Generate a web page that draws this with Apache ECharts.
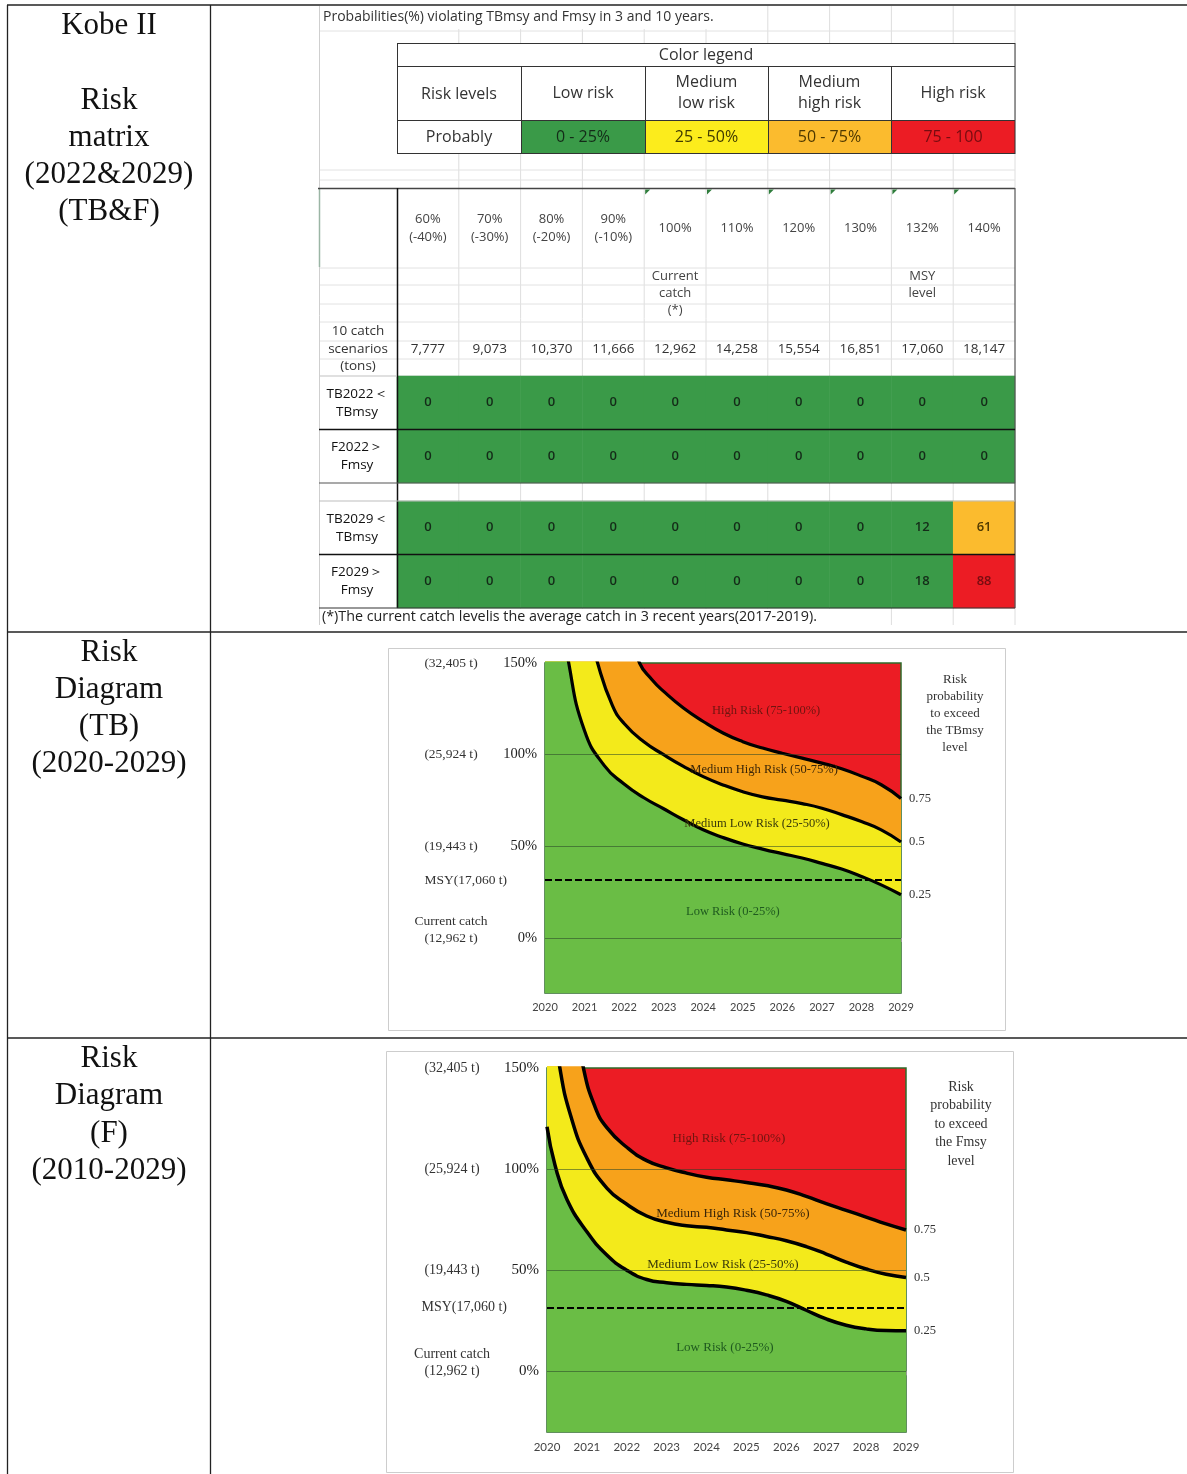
<!DOCTYPE html>
<html>
<head>
<meta charset="utf-8">
<script src="https://cdn.jsdelivr.net/npm/echarts@6/dist/echarts.min.js"></script>
<style>
  html, body { margin: 0; padding: 0; background: #ffffff; }
  #chart { width: 1187px; height: 1474px; }
</style>
</head>
<body>
<div id="chart"></div>
<script>
// ---------------- Risk matrix (Kobe II) ----------------
const catchLevels = ['60%\n(-40%)', '70%\n(-30%)', '80%\n(-20%)', '90%\n(-10%)', '100%', '110%', '120%', '130%', '132%', '140%'];
const catchNotes  = ['', '', '', '', 'Current\ncatch\n(*)', '', '', '', 'MSY\nlevel\n ', ''];
const catchTons   = ['7,777', '9,073', '10,370', '11,666', '12,962', '14,258', '15,554', '16,851', '17,060', '18,147'];
const rows2022 = ['TB2022\uFF1C\nTBmsy', 'F2022\uFF1E\nFmsy'];
const rows2029 = ['TB2029\uFF1C\nTBmsy', 'F2029\uFF1E\nFmsy'];
const probTB2022 = [0, 0, 0, 0, 0, 0, 0, 0, 0, 0];
const probF2022  = [0, 0, 0, 0, 0, 0, 0, 0, 0, 0];
const probTB2029 = [0, 0, 0, 0, 0, 0, 0, 0, 12, 61];
const probF2029  = [0, 0, 0, 0, 0, 0, 0, 0, 18, 88];

const legendLevels = ['Low risk', 'Medium\nlow risk', 'Medium\nhigh risk', 'High risk'];
const legendRanges = ['0 - 25%', '25 - 50%', '50 - 75%', '75 - 100'];

// ---------------- Risk diagrams ----------------
const currentCatch = 12962;
const msyCatch = 17060;
const bandNames = ['Low Risk (0-25%)', 'Medium Low Risk (25-50%)', 'Medium High Risk (50-75%)', 'High Risk (75-100%)'];
const boundaryNames = ['0.25', '0.5', '0.75'];

// TB: catch increase (%) at which P(TB < TBmsy) reaches 25 / 50 / 75 %
const tbLow = [[2020, 230], [2020.6, 150], [2021.0, 113], [2021.5, 94], [2022.0, 84], [2022.5, 76.5], [2023.0, 70.5],
  [2023.5, 64.5], [2024.0, 59], [2024.5, 54.8], [2025.0, 51.3], [2025.5, 48.5], [2026.0, 46], [2026.5, 43.6],
  [2027.0, 40.7], [2027.5, 37.6], [2028.0, 33.6], [2028.5, 29], [2029, 23.6]];
const tbMid = [[2020, 290], [2020.7, 200], [2021.33, 150], [2021.7, 127], [2022.0, 117], [2022.5, 107], [2023.0, 100],
  [2023.5, 93.6], [2024.0, 88], [2024.5, 83.5], [2025.0, 79.8], [2025.5, 77], [2026.0, 75.2], [2026.5, 73.3],
  [2027.0, 70.8], [2027.5, 67.3], [2028.0, 63.5], [2028.5, 59], [2029, 52.4]];
const tbHigh = [[2020, 330], [2021.2, 215], [2022.39, 150], [2022.7, 141], [2023.0, 134.5], [2023.5, 125.4],
  [2024.0, 118.1], [2024.5, 111.8], [2025.0, 107.1], [2025.5, 103.6], [2026.0, 100.8], [2026.5, 98.1], [2027.0, 95.4],
  [2027.5, 92.3], [2028.0, 88.3], [2028.5, 83.6], [2029, 76.1]];

// F: catch increase (%) at which P(F > Fmsy) reaches 25 / 50 / 75 %
const fLow = [[2020, 120.9], [2020.2, 102], [2020.5, 85], [2021.0, 69], [2021.5, 57.5], [2022.0, 50], [2022.5, 45.4],
  [2023.0, 43.8], [2023.5, 43], [2024.0, 42.5], [2024.5, 41.7], [2025.0, 40.1], [2025.5, 37.8], [2026.0, 34.6],
  [2026.5, 30.2], [2027.0, 25.9], [2027.5, 22.8], [2028.0, 21], [2028.5, 20.2], [2029, 20.1]];
const fMid = [[2020, 195], [2020.32, 150.3], [2020.6, 126], [2021.0, 105.5], [2021.5, 90.6], [2022.0, 82.6],
  [2022.5, 76.8], [2023.0, 73.7], [2023.5, 72], [2024.0, 71.2], [2024.5, 69.9], [2025.0, 68.6], [2025.5, 66.7],
  [2026.0, 64.6], [2026.5, 61.7], [2027.0, 58], [2027.5, 54], [2028.0, 50.6], [2028.5, 48], [2029, 46.4]];
const fHigh = [[2020, 270], [2020.5, 195], [2020.91, 150.3], [2021.2, 131], [2021.5, 120.5], [2022.0, 110.8],
  [2022.5, 104.2], [2023.0, 100.6], [2023.5, 98], [2024.0, 96], [2024.5, 94.7], [2025.0, 93.4], [2025.5, 91.9],
  [2026.0, 89.7], [2026.5, 86.5], [2027.0, 82.9], [2027.5, 79.6], [2028.0, 76.3], [2028.5, 72.9], [2029, 69.9]];

// ---------------- styling ----------------
const SANS = '"Open Sans", Lato, sans-serif';
const SERIF = '"Liberation Serif", "DejaVu Serif", serif';
const cellColors = ['#3a9a48', '#fcec1c', '#fbbb2e', '#ec1c24'];
const cellText = ['#142b18', '#3f3a00', '#4f3900', '#760c10'];
const bandColors = ['#6abd45', '#f3ea1b', '#f7a21b', '#ec1c24'];
const bandText = ['#1f5a1f', '#3a3a0a', '#3b2608', '#6e1510'];

const fmt = n => Math.round(n).toLocaleString('en-US');
const msyPct = (msyCatch / currentCatch - 1) * 100;

function cells(rowsValues) {
  const out = [];
  rowsValues.forEach((vals, r) => vals.forEach((v, c) => out.push([c, r, v])));
  return out;
}
function levelKey(v) { return v > 75 ? 'k3' : v > 50 ? 'k2' : v > 25 ? 'k1' : 'k0'; }
const cellRich = {};
cellText.forEach((c, i) => { cellRich['k' + i] = { color: c, fontSize: 13, fontWeight: 600, fontFamily: SANS }; });

function heatSeries(gridAxis, rowsValues) {
  return {
    type: 'heatmap', xAxisIndex: gridAxis.x, yAxisIndex: gridAxis.y,
    data: cells(rowsValues), silent: true,
    itemStyle: { borderWidth: 0 },
    emphasis: { disabled: true },
    label: { show: true, formatter: p => '{' + levelKey(p.value[2]) + '|' + p.value[2] + '}', rich: cellRich }
  };
}

// percent axis label and tonnage axis label for the diagrams
const pctLabel = v => (v >= 0 && v % 50 === 0) ? v + '%' : '';
const tonLabel = v => {
  if (v === 0) return 'Current catch\n(' + fmt(currentCatch) + ' t)\n ';
  if (v > 0 && v % 50 === 0) return '(' + fmt(currentCatch * (1 + v / 100)) + ' t)';
  return '';
};

function diagramAxes(gridIndex, yearFont, pctFont, tonFont, tonMargin) {
  const x = {
    type: 'value', gridIndex, min: 2020, max: 2029, interval: 1,
    axisLine: { show: false }, splitLine: { show: false },
    axisTick: { show: true, length: 4, lineStyle: { color: '#9a9a9a' } },
    axisLabel: { formatter: v => String(v), fontFamily: 'Lato, sans-serif', fontSize: yearFont, color: '#444', margin: 9 }
  };
  const yPct = {
    type: 'value', gridIndex, min: -30, max: 150, interval: 10, position: 'left',
    axisLine: { show: false }, axisTick: { show: false }, splitLine: { show: false },
    axisLabel: { formatter: pctLabel, fontFamily: SERIF, fontSize: pctFont, color: '#222', margin: 8 }
  };
  const yTon = {
    type: 'value', gridIndex, min: -30, max: 150, interval: 10, position: 'left',
    axisLine: { show: false }, axisTick: { show: false }, splitLine: { show: false },
    axisLabel: { formatter: tonLabel, fontFamily: SERIF, fontSize: tonFont, color: '#333',
      align: 'center', margin: tonMargin, lineHeight: 17 }
  };
  return { x, yPct, yTon };
}

function curveSeries(xi, yi, data, band, name, lw) {
  return {
    type: 'line', xAxisIndex: xi, yAxisIndex: yi, data, silent: true,
    smooth: 0.5, showSymbol: false, symbol: 'none',
    lineStyle: { color: '#000', width: lw },
    areaStyle: { color: bandColors[band], opacity: 1, origin: 'start' },
    endLabel: { show: true, formatter: name, distance: 8, fontFamily: SERIF, fontSize: 12.5, color: '#333' }
  };
}

function guideLines(fontSize, msyDistance) {
  const grid = v => ({ yAxis: v, lineStyle: { color: 'rgba(40,70,40,0.55)', width: 1, type: 'solid' }, label: { show: false } });
  return {
    symbol: 'none', silent: true,
    data: [grid(0), grid(50), grid(100), {
      yAxis: msyPct,
      lineStyle: { color: '#000', width: 2.2, type: [7, 3] },
      label: { show: true, position: 'start', distance: msyDistance, formatter: 'MSY(' + fmt(msyCatch) + ' t)',
        fontFamily: SERIF, fontSize, color: '#333' }
    }]
  };
}

function bandMarks(at, fontSize) {
  return {
    symbol: 'circle', symbolSize: 1, silent: true, itemStyle: { color: 'rgba(0,0,0,0)' },
    label: { show: true, position: 'inside', fontFamily: SERIF, fontSize },
    data: bandNames.map((n, i) => ({ coord: at[i], value: n, label: { formatter: n, color: bandText[i] } }))
  };
}

// positions (year, % increase) of the band captions
const tbCaptionAt = [[2024.75, 14.2], [2025.36, 62.2], [2025.54, 91.7], [2025.59, 123.8]];
const fCaptionAt  = [[2024.46, 11.9], [2024.41, 53], [2024.66, 78.2], [2024.56, 115.3]];

const dTB = diagramAxes(2, 11, 14.5, 13.5, 94);
const dF = diagramAxes(3, 11.5, 15, 14, 95);

// ---------------- graphic helpers (table frame, legend, notes) ----------------
function ln(x1, y1, x2, y2, stroke, w, z) {
  return { type: 'line', silent: true, z: z == null ? 5 : z, shape: { x1, y1, x2, y2 }, style: { stroke, lineWidth: w } };
}
function rc(x, y, w, h, fill, stroke, z) {
  return { type: 'rect', silent: true, z: z == null ? 1 : z, shape: { x, y, width: w, height: h },
    style: { fill: fill || 'none', stroke: stroke || 'none', lineWidth: 1 } };
}
function tx(x, y, t, o) {
  o = o || {};
  return { type: 'text', silent: true, z: 7, x, y, style: {
    text: t, fill: o.color || '#333', fontSize: o.size || 13, fontFamily: o.family || SANS,
    fontWeight: o.weight || 'normal', lineHeight: o.lh || undefined,
    align: o.align || 'center', textAlign: o.align || 'center',
    verticalAlign: o.va || 'middle', textVerticalAlign: o.va || 'middle'
  } };
}

const g = [];
// outer table
g.push(ln(7, 5, 1187, 5, '#222', 1.3, 8));
g.push(ln(7.5, 5, 7.5, 1474, '#222', 1.3, 8));
g.push(ln(210.5, 5, 210.5, 1474, '#222', 1.3, 8));
g.push(ln(7, 632, 1187, 632, '#222', 1.3, 8));
g.push(ln(7, 1038, 1187, 1038, '#222', 1.3, 8));
// first column captions
g.push(tx(109, 7.5, 'Kobe II\n\nRisk\nmatrix\n(2022&2029)\n(TB&F)', { family: SERIF, size: 31, lh: 37.2, color: '#111', va: 'top' }));
g.push(tx(109, 634.5, 'Risk\nDiagram\n(TB)\n(2020-2029)', { family: SERIF, size: 31, lh: 37, color: '#111', va: 'top' }));
g.push(tx(109, 1040.5, 'Risk\nDiagram\n(F)\n(2010-2029)', { family: SERIF, size: 31, lh: 37.2, color: '#111', va: 'top' }));

// spreadsheet gridlines (hidden where sheet text overflows across cells)
const colX = [];
for (let i = 0; i <= 10; i++) colX.push(397 + i * 61.8);
colX.slice(1, 10).forEach(x => {
  g.push(ln(x, x > 735 ? 6 : 29, x, 608, '#dedede', 1, 0));
  if (x > 830) g.push(ln(x, 608, x, 625, '#dedede', 1, 0));
});
g.push(ln(1015, 6, 1015, 188, '#dedede', 1, 0));
g.push(ln(1015, 608, 1015, 625, '#dedede', 1, 0));
[31, 170, 180, 268, 285, 304, 322, 341, 359, 376].forEach(y => g.push(ln(319, y, 1015, y, '#e2e2e2', 1, 0)));
g.push(ln(319.5, 6, 319.5, 625, '#cfcfcf', 1, 0));
g.push(ln(319.5, 189, 319.5, 267, '#9bb5a5', 1.5, 1));
// cell note markers in the header row
colX.slice(4, 10).forEach(x => g.push({ type: 'polygon', silent: true, z: 6,
  shape: { points: [[x + 1, 189.5], [x + 6, 189.5], [x + 1, 194.5]] }, style: { fill: '#2f7d3c' } }));

// sheet title and footnote
g.push(tx(323, 17, 'Probabilities(%) violating TBmsy and Fmsy in 3 and 10 years.', { align: 'left', size: 14, color: '#333' }));
g.push(tx(322, 617, '(*)The current catch levelis the average catch in 3 recent years(2017-2019).', { align: 'left', size: 14.3, color: '#222' }));

// colour legend table
const lgX = [397, 521, 645, 768, 891, 1015];
g.push(rc(397, 43, 618, 110, '#ffffff', null, 1));
g.push(tx(706, 55, 'Color legend', { size: 16, color: '#333' }));
g.push(tx(459, 94, 'Risk levels', { size: 16, color: '#333' }));
g.push(tx(459, 137, 'Probably', { size: 16, color: '#333' }));
legendLevels.forEach((t, i) => {
  const cx = (lgX[i + 1] + lgX[i + 2]) / 2;
  g.push(tx(cx, 93, t, { size: 16, color: '#333', lh: 21 }));
  g.push(rc(lgX[i + 1], 120, lgX[i + 2] - lgX[i + 1], 33, cellColors[i], null, 2));
  g.push(tx(cx, 137, legendRanges[i], { size: 16, color: cellText[i] }));
});
g.push(ln(397, 43.5, 1015, 43.5, '#333', 1));
g.push(ln(397, 66.5, 1015, 66.5, '#333', 1));
g.push(ln(397, 120.5, 1015, 120.5, '#333', 1));
g.push(ln(397, 153.5, 1015, 153.5, '#333', 1));
g.push(ln(397.5, 43, 397.5, 154, '#333', 1));
g.push(ln(1015, 43, 1015, 154, '#333', 1));
lgX.slice(1, 5).forEach(x => g.push(ln(x + 0.5, 66, x + 0.5, 154, '#333', 1)));

// matrix frame
g.push(ln(318, 188.5, 1015, 188.5, '#444', 1.6));
g.push(ln(397.5, 188, 397.5, 608, '#111', 1.5));
g.push(ln(1015, 188, 1015, 608, '#555', 1.2));
g.push(ln(319, 376, 397, 376, '#cfcfcf', 1));
g.push(ln(319, 429.5, 1015, 429.5, '#111', 1.3));
g.push(ln(319, 483, 1015, 483, '#555', 1.1));
g.push(ln(319, 501, 1015, 501, '#bdbdbd', 1));
g.push(ln(319, 554.5, 1015, 554.5, '#111', 1.3));
g.push(ln(319, 608, 1015, 608, '#333', 1.2));
g.push(tx(358, 349, '10 catch\nscenarios\n(tons)', { size: 13.5, color: '#333', lh: 17.5 }));

// diagram frames and right-hand captions
g.push(rc(388.5, 648.5, 617, 382, null, '#cdcdcd', 0));
g.push(rc(386.5, 1051.5, 627, 421, null, '#cdcdcd', 0));
g.push(tx(955, 671, 'Risk\nprobability\nto exceed\nthe TBmsy\nlevel', { family: SERIF, size: 13, lh: 17, color: '#333', va: 'top' }));
g.push(tx(961, 1078, 'Risk\nprobability\nto exceed\nthe Fmsy\nlevel', { family: SERIF, size: 14, lh: 18.5, color: '#333', va: 'top' }));

const topAxisBase = {
  type: 'category', gridIndex: 0, position: 'top', boundaryGap: true,
  axisLine: { show: false }, axisTick: { show: false }, splitLine: { show: false }
};

const option = {
  animation: false,
  backgroundColor: '#ffffff',
  grid: [
    { left: 397, top: 376, width: 618, height: 107, outerBoundsMode: 'none' },
    { left: 397, top: 501, width: 618, height: 107, outerBoundsMode: 'none' },
    { left: 545, top: 663, width: 356, height: 330, show: true, backgroundColor: bandColors[3],
      borderColor: '#2e6b2a', borderWidth: 1.5, outerBoundsMode: 'none' },
    { left: 547, top: 1068, width: 359, height: 364, show: true, backgroundColor: bandColors[3],
      borderColor: '#2e6b2a', borderWidth: 1.5, outerBoundsMode: 'none' }
  ],
  xAxis: [
    Object.assign({}, topAxisBase, { data: catchLevels,
      axisLabel: { interval: 0, margin: 148, verticalAlign: 'middle', fontFamily: SANS, fontSize: 13, lineHeight: 18, color: '#444' } }),
    Object.assign({}, topAxisBase, { data: catchNotes,
      axisLabel: { interval: 0, margin: 108, verticalAlign: 'top', fontFamily: SANS, fontSize: 13, lineHeight: 17, color: '#444' } }),
    Object.assign({}, topAxisBase, { data: catchTons,
      axisLabel: { interval: 0, margin: 27, verticalAlign: 'middle', fontFamily: SANS, fontSize: 13.5, color: '#333' } }),
    { type: 'category', gridIndex: 1, data: catchTons, show: false },
    dTB.x, dF.x
  ],
  yAxis: [
    { type: 'category', gridIndex: 0, data: rows2022, inverse: true,
      axisLine: { show: false }, axisTick: { show: false }, splitLine: { show: false },
      axisLabel: { align: 'center', margin: 40, fontFamily: SANS, fontSize: 13.5, lineHeight: 18, color: '#111' } },
    { type: 'category', gridIndex: 1, data: rows2029, inverse: true,
      axisLine: { show: false }, axisTick: { show: false }, splitLine: { show: false },
      axisLabel: { align: 'center', margin: 40, fontFamily: SANS, fontSize: 13.5, lineHeight: 18, color: '#111' } },
    dTB.yPct, dTB.yTon, dF.yPct, dF.yTon
  ],
  visualMap: {
    type: 'piecewise', show: false, seriesIndex: [0, 1], dimension: 2,
    pieces: [
      { min: 0, max: 25, color: cellColors[0] },
      { gt: 25, lte: 50, color: cellColors[1] },
      { gt: 50, lte: 75, color: cellColors[2] },
      { gt: 75, lte: 100, color: cellColors[3] }
    ]
  },
  series: [
    heatSeries({ x: 0, y: 0 }, [probTB2022, probF2022]),
    heatSeries({ x: 3, y: 1 }, [probTB2029, probF2029]),
    curveSeries(4, 2, tbHigh, 2, boundaryNames[2], 3.2),
    curveSeries(4, 2, tbMid, 1, boundaryNames[1], 3.2),
    Object.assign(curveSeries(4, 2, tbLow, 0, boundaryNames[0], 3.2), {
      markLine: guideLines(13.5, 38), markPoint: bandMarks(tbCaptionAt, 12.5) }),
    curveSeries(5, 4, fHigh, 2, boundaryNames[2], 3.5),
    curveSeries(5, 4, fMid, 1, boundaryNames[1], 3.5),
    Object.assign(curveSeries(5, 4, fLow, 0, boundaryNames[0], 3.5), {
      markLine: guideLines(14, 40), markPoint: bandMarks(fCaptionAt, 13) })
  ],
  graphic: { elements: g }
};

const chart = echarts.init(document.getElementById('chart'), null, { renderer: 'canvas', width: 1187, height: 1474 });
chart.setOption(option);
</script>
</body>
</html>
